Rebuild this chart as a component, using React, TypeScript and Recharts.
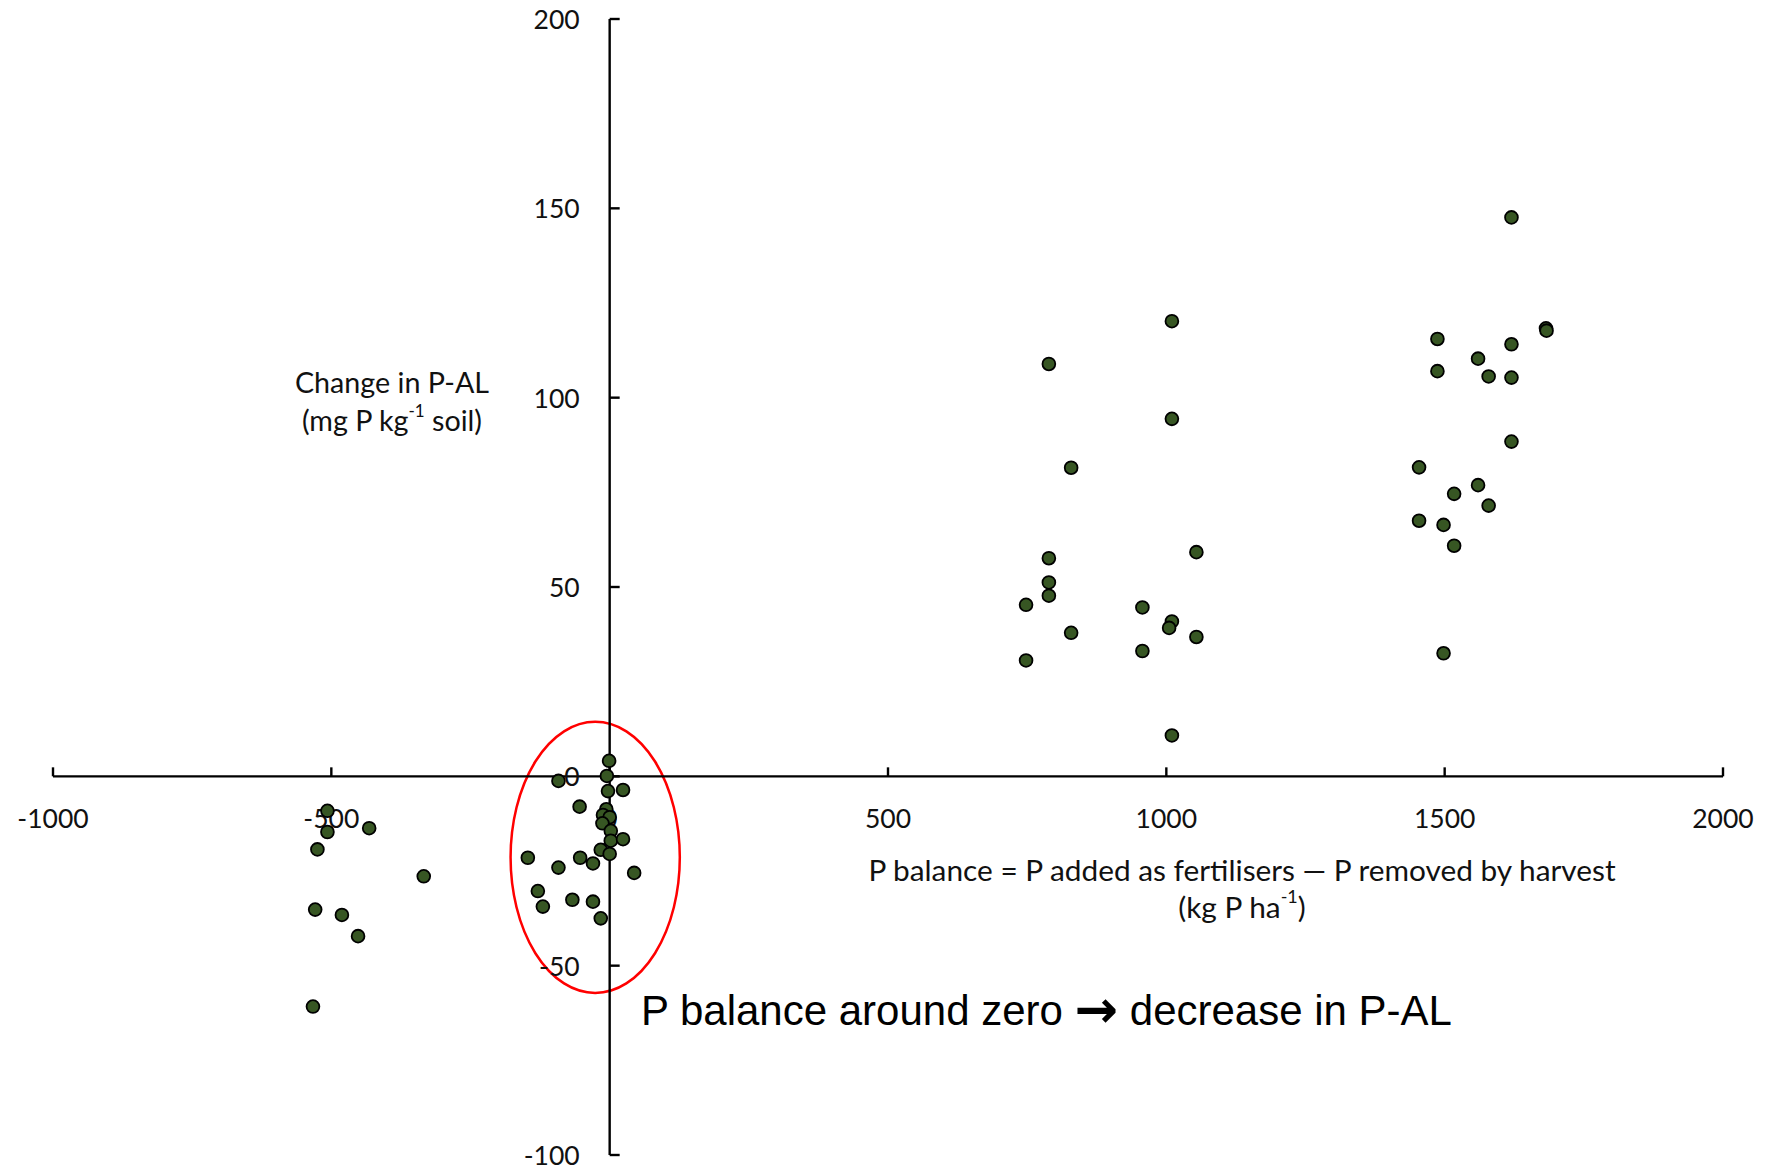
import React from "react";
import {
  ScatterChart,
  Scatter,
  XAxis,
  YAxis,
  ReferenceLine,
  ReferenceDot,
  ReferenceArea,
} from "recharts";

// axis ticks
const xTicks = [-1000, -500, 0, 500, 1000, 1500, 2000];
const yTicks = [-100, -50, 0, 50, 100, 150, 200];

// [P balance (kg P/ha), change in P-AL (mg P/kg soil)]
const deficitPlots: [number, number][] = [
  [-507, -9.1], [-507, -14.7], [-432, -13.7], [-525, -19.3], [-334, -26.4],
  [-529, -35.2], [-481, -36.6], [-452, -42.2], [-533, -60.8],
];

const nearZeroPlots: [number, number][] = [
  [-1, 4.1], [-5, 0.1], [-92, -1.2], [-3, -3.9], [24, -3.6],
  [-54, -8.0], [-6, -8.7], [-12, -10.2], [0, -10.8], [-13, -12.4],
  [2, -14.4], [2, -17.0], [24, -16.6], [-16, -19.4], [0, -20.5],
  [-147, -21.5], [-53, -21.5], [-30, -23.0], [-92, -24.1], [44, -25.5],
  [-129, -30.3], [-120, -34.4], [-67, -32.6], [-30, -33.1], [-16, -37.5],
];

const mediumPlots: [number, number][] = [
  [1010, 120.2], [789, 108.9], [1010, 94.4], [829, 81.5], [1054, 59.2],
  [789, 57.6], [789, 51.2], [789, 47.7], [748, 45.3], [957, 44.6],
  [1010, 40.9], [1005, 39.2], [829, 37.9], [1054, 36.8], [957, 33.1],
  [748, 30.6], [1010, 10.8],
];

const highPlots: [number, number][] = [
  [1620, 147.6], [1682, 118.3], [1683, 117.7], [1487, 115.5], [1620, 114.1],
  [1560, 110.3], [1487, 107.0], [1579, 105.6], [1620, 105.3], [1620, 88.4],
  [1454, 81.6], [1560, 76.9], [1517, 74.6], [1579, 71.5], [1454, 67.5],
  [1498, 66.4], [1517, 60.9], [1498, 32.5],
];

// red ellipse around the near-zero group (data units)
const circleX = [-178, 126];
const circleY = [-57.2, 14.4];

const data = [...deficitPlots, ...nearZeroPlots, ...mediumPlots, ...highPlots].map(
  ([x, y]) => ({ x, y })
);

const FONT = "Lato, 'Open Sans', sans-serif";
const TEXT = "#111";

function Dot(props: any) {
  return <circle cx={props.cx} cy={props.cy} r={6.4} fill="#375623" stroke="#000" strokeWidth={1.8} />;
}

export default function App() {
  return (
    <div style={{ position: "absolute", left: 0, top: 0, width: 1765, height: 1172, background: "#fff" }}>
      <ScatterChart width={1765} height={1172} margin={{ top: 19, right: 42, bottom: 17, left: 53 }}>
        <XAxis type="number" dataKey="x" domain={[-1000, 2000]} hide />
        <YAxis type="number" dataKey="y" domain={[-100, 200]} hide />

        <ReferenceLine x={0} stroke="#000" strokeWidth={2.4} />
        <ReferenceLine y={0} stroke="#000" strokeWidth={2.4} />

        {xTicks.map((v) => (
          <ReferenceDot
            key={"xt" + v}
            x={v}
            y={0}
            ifOverflow="visible"
            shape={(p: any) => (
              <g>
                <line x1={p.cx} y1={p.cy} x2={p.cx} y2={p.cy - 9} stroke="#000" strokeWidth={2.4} />
                <text x={p.cx} y={p.cy + 42} textAnchor="middle" dominantBaseline="central"
                  fontFamily={FONT} fontSize={26.5} fill={TEXT}>{v}</text>
              </g>
            )}
          />
        ))}
        {yTicks.map((v) => (
          <ReferenceDot
            key={"yt" + v}
            x={0}
            y={v}
            ifOverflow="visible"
            shape={(p: any) => (
              <g>
                <line x1={p.cx} y1={p.cy} x2={p.cx + 10} y2={p.cy} stroke="#000" strokeWidth={2.4} />
                <text x={p.cx - 30} y={p.cy} textAnchor="end" dominantBaseline="central"
                  fontFamily={FONT} fontSize={26.5} fill={TEXT}>{v}</text>
              </g>
            )}
          />
        ))}

        <ReferenceArea
          x1={circleX[0]}
          x2={circleX[1]}
          y1={circleY[0]}
          y2={circleY[1]}
          ifOverflow="visible"
          shape={(p: any) => (
            <ellipse cx={p.x + p.width / 2} cy={p.y + p.height / 2} rx={p.width / 2} ry={p.height / 2}
              fill="none" stroke="#ff0000" strokeWidth={2.5} />
          )}
        />

        <Scatter data={data} shape={<Dot />} isAnimationActive={false} />

        <text x={392} y={382} textAnchor="middle" dominantBaseline="central" fontFamily={FONT} fontSize={28.7} fill={TEXT}>
          Change in P-AL
        </text>
        <text x={392} y={420} textAnchor="middle" dominantBaseline="central" fontFamily={FONT} fontSize={28.7} fill={TEXT}>
          (mg P kg<tspan dy={-10} fontSize={17}>-1</tspan><tspan dy={10}> soil)</tspan>
        </text>

        <text x={1242} y={869} textAnchor="middle" dominantBaseline="central" fontFamily={FONT} fontSize={29.8} fill={TEXT}>
          P balance = P added as fertilisers — P removed by harvest
        </text>
        <text x={1242} y={906} textAnchor="middle" dominantBaseline="central" fontFamily={FONT} fontSize={29.8} fill={TEXT}>
          (kg P ha<tspan dy={-10} fontSize={18}>-1</tspan><tspan dy={10}>)</tspan>
        </text>

        <text x={641} y={1025} fontFamily="'Liberation Sans', Arial, sans-serif" fontSize={42} fill="#000">
          P balance around zero{" "}
          <tspan fontFamily="'DejaVu Sans', sans-serif" fontWeight="bold" fontSize={52} dy={2}>→</tspan>
          <tspan dy={-2}>{" "}decrease in P-AL</tspan>
        </text>
      </ScatterChart>
    </div>
  );
}
